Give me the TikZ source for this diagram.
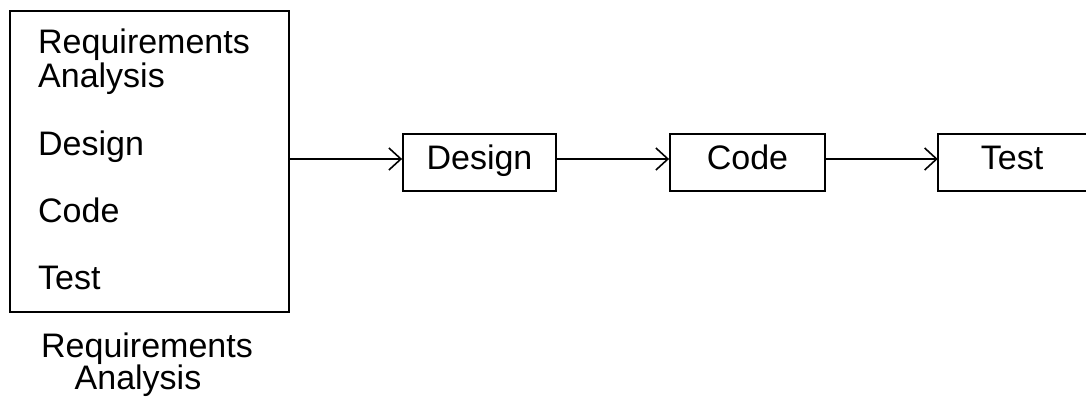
\documentclass[tikz,border=0pt]{standalone}
\usepackage{fontspec}
\setmainfont{Liberation Sans}
\usetikzlibrary{arrows.meta}
\begin{document}
\begin{tikzpicture}[x=1pt,y=-1pt,
  box/.style={draw,line width=1.8pt,inner sep=0pt},
  lbl/.style={inner sep=0pt,font=\fontsize{34}{38}\selectfont},
  arr/.style={line width=1.6pt,-{Straight Barb[length=12pt,width=22pt,line width=1.6pt]}}]
\useasboundingbox (0,0) rectangle (1086,396);
\node[box,minimum width=279pt,minimum height=301pt] (big) at (149.5,161.5) {};
\node[lbl,anchor=base west] (t1) at (38,53) {Requirements};
\node[lbl,anchor=base west] (t2) at (38,87) {Analysis};
\node[lbl,anchor=base west] (t3) at (38,155) {Design};
\node[lbl,anchor=base west] (t4) at (38,222) {Code};
\node[lbl,anchor=base west] (t5) at (38,289) {Test};
\node[lbl,anchor=base] (b1) at (147,357) {Requirements};
\node[lbl,anchor=base] (b2) at (138,389) {Analysis};
\node[box,minimum width=153pt,minimum height=57pt] (design) at (479.5,162.5) {};
\node[lbl,anchor=base] at (479.5,169) {Design};
\node[box,minimum width=155pt,minimum height=57pt] (code) at (747.5,162.5) {};
\node[lbl,anchor=base] at (747.5,169) {Code};
\node[inner sep=0pt,minimum width=148pt,minimum height=57pt] (test) at (1012,162.5) {};
\draw[line width=1.8pt] (test.north east) -- (test.north west) -- (test.south west) -- (test.south east);
\node[lbl,anchor=base] at (1012,169) {Test};
\coordinate (ay) at (0,159);
\draw[arr] (big.east |- ay) -- (design.west |- ay);
\draw[arr] (design.east |- ay) -- (code.west |- ay);
\draw[arr] (code.east |- ay) -- (test.west |- ay);
\end{tikzpicture}
\end{document}
